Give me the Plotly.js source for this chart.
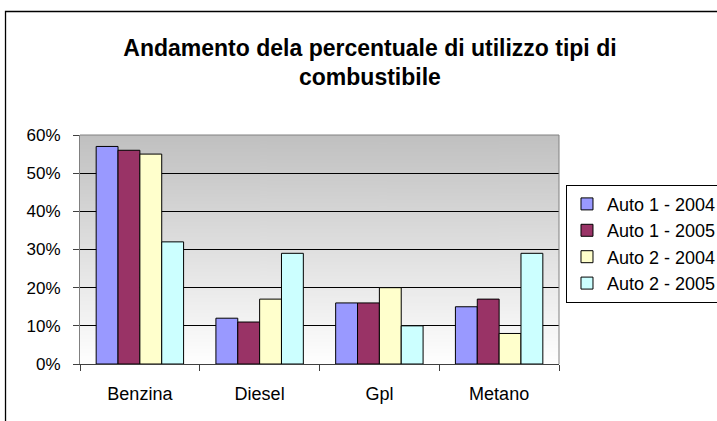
<!DOCTYPE html>
<html>
<head>
<meta charset="utf-8">
<script src="https://cdn.plot.ly/plotly-3.0.1.min.js"></script>
<style>
  html, body { margin: 0; padding: 0; background: #fff; }
  #chart { width: 717px; height: 421px; }
</style>
</head>
<body>
<div id="chart"></div>
<script>
// Fuel categories and the share of use for each car / year
const categories = ['Benzina', 'Diesel', 'Gpl', 'Metano'];
const seriesNames = ['Auto 1 - 2004', 'Auto 1 - 2005', 'Auto 2 - 2004', 'Auto 2 - 2005'];
const auto1_2004 = [0.57, 0.12, 0.16, 0.15];
const auto1_2005 = [0.56, 0.11, 0.16, 0.17];
const auto2_2004 = [0.55, 0.17, 0.20, 0.08];
const auto2_2005 = [0.32, 0.29, 0.10, 0.29];
const yTicks = [0, 0.1, 0.2, 0.3, 0.4, 0.5, 0.6];

const seriesValues = [auto1_2004, auto1_2005, auto2_2004, auto2_2005];
const seriesColors = ['#9999FF', '#993366', '#FFFFCC', '#CCFFFF'];

const FONT = '"Liberation Sans", Arial, Helvetica, sans-serif';

// Vertical grey-to-white fill for the plot area
function gradientImage() {
  const c = document.createElement('canvas');
  c.width = 4; c.height = 256;
  const ctx = c.getContext('2d');
  const g = ctx.createLinearGradient(0, 0, 0, 256);
  g.addColorStop(0, '#C0C0C0');
  g.addColorStop(1, '#FFFFFF');
  ctx.fillStyle = g;
  ctx.fillRect(0, 0, 4, 256);
  return c.toDataURL('image/png');
}

const traces = seriesValues.map((vals, i) => ({
  type: 'bar',
  name: seriesNames[i],
  x: categories,
  y: vals,
  legendgroup: 'g' + i,
  marker: { color: seriesColors[i], line: { color: '#000', width: 1 } },
  hoverinfo: 'skip'
}));

const layout = {
  width: 717,
  height: 421,
  margin: { l: 80, r: 158, t: 135, b: 57, pad: 0, autoexpand: false },
  paper_bgcolor: '#FFFFFF',
  plot_bgcolor: 'rgba(0,0,0,0)',
  font: { family: FONT, color: '#000' },
  title: {
    text: 'Andamento dela percentuale di utilizzo tipi di<br>combustibile',
    font: { family: FONT, size: 23, color: '#000', weight: 'bold' },
    xref: 'container', x: 0.516, xanchor: 'center',
    yref: 'container', y: 0.868, yanchor: 'top'
  },
  barmode: 'group',
  bargap: 0.27,
  bargroupgap: 0,
  showlegend: true,
  legend: {
    x: 1.0146, xanchor: 'left',
    y: 0.783, yanchor: 'top',
    bgcolor: '#FFFFFF',
    bordercolor: '#000',
    borderwidth: 1,
    font: { family: FONT, size: 18, color: '#000' },
    traceorder: 'normal',
    tracegroupgap: 6.5
  },
  xaxis: {
    type: 'category',
    showgrid: false,
    showline: true,
    linecolor: '#404040',
    linewidth: 1,
    mirror: false,
    ticks: 'outside',
    tickson: 'boundaries',
    ticklen: 6,
    tickcolor: '#404040',
    ticklabelstandoff: 13,
    tickfont: { family: FONT, size: 18, color: '#000' },
    fixedrange: true
  },
  yaxis: {
    range: [0, 0.6],
    tickvals: yTicks,
    tickformat: '.0%',
    showgrid: true,
    gridcolor: '#000',
    gridwidth: 1,
    zeroline: false,
    showline: true,
    linecolor: '#808080',
    linewidth: 1,
    ticks: 'outside',
    ticklen: 6,
    tickcolor: '#404040',
    ticklabelstandoff: 9,
    tickfont: { family: FONT, size: 17, color: '#000' },
    fixedrange: true
  },
  images: [{
    source: gradientImage(),
    xref: 'paper', yref: 'paper',
    x: 0, y: 1, sizex: 1, sizey: 1,
    xanchor: 'left', yanchor: 'top',
    sizing: 'stretch',
    layer: 'below'
  }],
  shapes: [
    // plot area frame (top and right edges)
    { type: 'line', xref: 'paper', yref: 'paper', x0: 0, x1: 1, y0: 1, y1: 1,
      line: { color: '#808080', width: 1 } },
    { type: 'line', xref: 'paper', yref: 'paper', x0: 1, x1: 1, y0: 0, y1: 1,
      line: { color: '#808080', width: 1 } },
    // outer chart border
    { type: 'rect', xref: 'paper', yref: 'paper',
      x0: -0.1555, x1: 1.6, y0: -0.5, y1: 1.5393,
      line: { color: '#000', width: 1.3 }, fillcolor: 'rgba(0,0,0,0)' }
  ]
};

Plotly.newPlot('chart', traces, layout, { displayModeBar: false, staticPlot: true });
</script>
</body>
</html>
